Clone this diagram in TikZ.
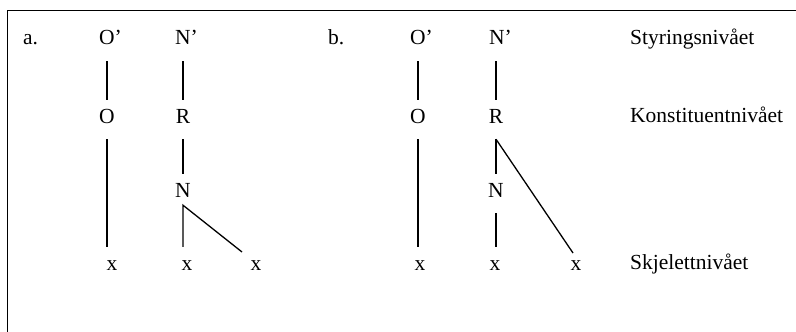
\documentclass[tikz,border=0pt]{standalone}
\usepackage{fontspec}
\setmainfont{Liberation Serif}

\begin{document}
\begin{tikzpicture}[x=1pt,y=-1pt,
  lab/.style={anchor=base,inner sep=8pt,text height=15pt,text depth=8pt,font=\fontsize{21.5}{26}\selectfont},
  lvl/.style={anchor=base west,inner sep=0pt,font=\fontsize{21.5}{26}\selectfont},
  br/.style={line width=1.3pt}]
\useasboundingbox (0,0) rectangle (796,332);
\draw[line width=1.3pt] (7.5,332) -- (7.5,10.5) -- (796,10.5);

% a.
\node[lvl] (pa) at (23,45) {a.};
\node[lab] (oo1) at (110.5,45) {O’};
\node[lab] (o1) at (107,123) {O};
\node[lab] (xa1) at (112,270) {x};
\draw[br] (o1 |- oo1.south) -- (o1.north);
\draw[br] (o1.south) -- (o1.south |- xa1.north);

\node[lab] (nn1) at (186.5,45) {N’};
\node[lab] (r1) at (183,123) {R};
\node[lab] (n1) at (183,197) {N};
\node[lab] (xa2) at (187,270) {x};
\node[lab] (xa3) at (256,270) {x};
\coordinate (ka) at ([yshift=8pt]n1.south);
\coordinate (ea) at (242,252);
\draw[br] (r1 |- nn1.south) -- (r1.north);
\draw[br] (r1.south) -- (n1.north);
\draw[br] (ka |- xa2.north) -- (ka) -- (ea);

% b.
\node[lvl] (pb) at (328,45) {b.};
\node[lab] (oo2) at (421.5,45) {O’};
\node[lab] (o2) at (418,123) {O};
\node[lab] (xb1) at (420,270) {x};
\draw[br] (o2 |- oo2.south) -- (o2.north);
\draw[br] (o2.south) -- (o2.south |- xb1.north);

\node[lab] (nn2) at (500.5,45) {N’};
\node[lab] (r2) at (496,123) {R};
\node[lab] (n2) at (496,197) {N};
\node[lab] (xb2) at (495,270) {x};
\node[lab] (xb3) at (576,270) {x};
\coordinate (eb) at (573,253);
\draw[br] (r2 |- nn2.south) -- (r2.north);
\draw[br] (r2.south) -- (n2.north);
\draw[br] (r2.south) -- (eb);
\draw[br] (n2.south) -- (n2.south |- xb2.north);

% levels
\node[lvl] (s1) at (630,45) {Styringsnivået};
\node[lvl] (s2) at (630,122) {Konstituentnivået};
\node[lvl] (s3) at (630,269) {Skjelettnivået};
\end{tikzpicture}
\end{document}
